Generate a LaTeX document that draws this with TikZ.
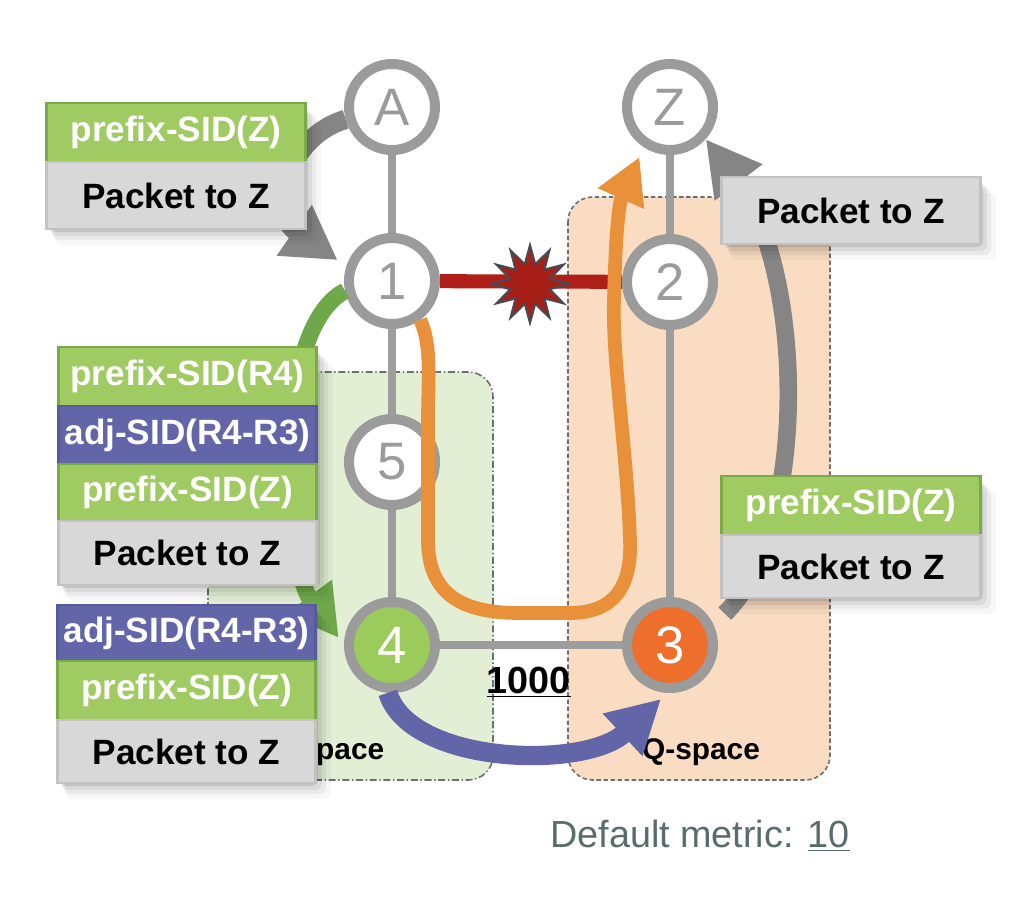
\documentclass[tikz,border=0pt]{standalone}
\usepackage{fontspec}
\setmainfont{Liberation Sans}
\usetikzlibrary{arrows.meta,shapes.geometric,calc}
\pgfdeclarelayer{bg}
\pgfsetlayers{bg,main}
\definecolor{ringgray}{HTML}{9B9B9B}
\definecolor{edgegray}{HTML}{9D9D9D}
\definecolor{arrowgray}{HTML}{858585}
\definecolor{linered}{HTML}{B01F17}
\definecolor{starred}{HTML}{A61E16}
\definecolor{stardraw}{HTML}{4A4A55}
\definecolor{pgreen}{HTML}{E2EFD5}
\definecolor{qpeach}{HTML}{F9DCC2}
\definecolor{regionborder}{HTML}{6E6E6E}
\definecolor{boxgreen}{HTML}{A0CB62}
\definecolor{boxgreenb}{HTML}{78AA48}
\definecolor{boxblue}{HTML}{6266A8}
\definecolor{boxblueb}{HTML}{575B9C}
\definecolor{boxgray}{HTML}{D8D8D8}
\definecolor{boxgrayb}{HTML}{C2C2C2}
\definecolor{nodegreen}{HTML}{9BCB5B}
\definecolor{nodeorange}{HTML}{EE6E2C}
\definecolor{orangearrow}{HTML}{E8913A}
\definecolor{greenarrow}{HTML}{6FA84B}
\definecolor{bluearrow}{HTML}{6266A8}
\definecolor{metrictext}{HTML}{5A6B6B}
\tikzset{
  router/.style={circle, draw=ringgray, line width=5.7pt, fill=white, minimum size=1.72cm,
    inner sep=0pt, text=ringgray, font=\fontsize{30}{30}\selectfont},
  edgeline/.style={draw=edgegray, line width=5pt},
  redline/.style={draw=linered, line width=8pt},
  stackrow/.style={rectangle, minimum width=5.17cm, inner sep=0pt, line width=1.5pt,
    font=\fontsize{20}{24}\selectfont\bfseries},
  greenrow/.style={stackrow, fill=boxgreen, draw=boxgreenb, text=white},
  bluerow/.style={stackrow, fill=boxblue, draw=boxblueb, text=white},
  grayrow/.style={stackrow, fill=boxgray, draw=boxgrayb, text=black},
  region/.style={line width=0.9pt, draw=regionborder, rounded corners=14pt},
  spacelabel/.style={font=\fontsize{17}{17}\selectfont\bfseries},
  flow/.style={line cap=butt}
}
\newcommand\boxshadow[4]{%
  \foreach \s/\o in {3/0.10,7/0.07,11/0.05,16/0.03}{%
    \fill[black,opacity=\o,rounded corners=4pt] (#1+\s*0.5,#2+\s) rectangle (#3+\s,#4+\s);}}
\begin{document}
\begin{tikzpicture}[x=0.02cm,y=-0.02cm]
\useasboundingbox (0,0) rectangle (1022,914);

% regions
\begin{pgfonlayer}{bg}
\draw[region, fill=pgreen, dash pattern=on 4pt off 1.5pt on 0.8pt off 1.5pt] (208,372) rectangle (493,780);
\draw[region, fill=qpeach, dash pattern=on 2.5pt off 1.5pt] (568,197) rectangle (830,780);
\end{pgfonlayer}

% routers
\node[router] (nA) at (392,107) {A};
\node[router] (nZ) at (670,107) {Z};
\node[router] (n1) at (392,281) {1};
\node[router] (n2) at (670,282) {2};
\node[router] (n5) at (392,462) {5};
\node[router, fill=nodegreen, text=white] (n4) at (392,645) {4};
\node[router, fill=nodeorange, text=white] (n3) at (670,645) {3};

% links
\begin{pgfonlayer}{bg}
\draw[edgeline] (nA) -- (n1);
\draw[edgeline] (n1) -- (n5);
\draw[edgeline] (n5) -- (n4);
\draw[edgeline] (nZ) -- (n2);
\draw[edgeline] (n2) -- (n3);
\draw[edgeline] (n4) -- (n3);
\draw[redline] (n1) -- (n2);
\end{pgfonlayer}

\node[star, star points=12, star point ratio=1.9, minimum size=1.55cm, inner sep=0pt,
  fill=starred, draw=stardraw, line width=1.2pt] (boom) at (530,284) {};

% labels
\node[spacelabel] (pspace) at (327,752) {P-space};
\node[spacelabel] (qspace) at (701,752) {Q-space};
\node[font=\fontsize{21.5}{21.5}\selectfont\bfseries] (cost) at (529,682) {\underline{1000}};
\node[font=\fontsize{21.5}{21.5}\selectfont, text=metrictext] (deflt) at (700,836) {Default metric: \underline{10}};

% flows
\draw[flow, draw=arrowgray, line width=11pt, -{Triangle[length=30pt,width=33pt]}, shorten >=6pt]
  (nA.195) .. controls (290,135) and (265,210) .. (n1.162);
\draw[flow, draw=greenarrow, line width=9.5pt, -{Triangle[length=29pt,width=31pt]}, shorten >=5pt]
  (n1.192) .. controls (270,330) and (285,565) .. (n4.180);
\draw[flow, draw=bluearrow, line width=11pt, -{Triangle[length=30pt,width=31pt]}, shorten >=5pt]
  (n4.265) .. controls (410,765) and (585,770) .. (n3.267);
\draw[flow, draw=arrowgray, line width=10pt, -{Triangle[length=31pt,width=32pt]}, shorten <=9pt]
  (n3.25) .. controls (810,530) and (805,270) .. (nZ.-42);
\draw[flow, draw=orangearrow, line width=7.8pt, -{Triangle[length=26pt,width=27pt]}, shorten >=6pt]
  (n1.-54) .. controls (432,345) and (428,380) .. (428,420) -- (428,540)
  .. controls (428,600) and (470,613) .. (520,613) -- (570,613)
  .. controls (615,613) and (632,585) .. (630,540)
  .. controls (627,450) and (612,360) .. (614,300)
  .. controls (615,250) and (618,205) .. (nZ.237);

% packet boxes
\boxshadow{47}{103}{305}{229}
\node[greenrow, minimum height=1.18cm] (b1a) at (176,132.5) {prefix-SID(Z)};
\node[grayrow, minimum height=1.34cm] (b1b) at (176,195.5) {Packet to Z};

\boxshadow{722}{177}{980}{244}
\node[grayrow, minimum height=1.34cm] (b2a) at (851,210.5) {Packet to Z};

\boxshadow{58}{347}{317}{585}
\node[greenrow, minimum height=1.18cm] (b3a) at (187.5,376.5) {prefix-SID(R4)};
\node[bluerow, minimum height=1.16cm] (b3b) at (187.5,435) {adj-SID(R4-R3)};
\node[greenrow, minimum height=1.14cm] (b3c) at (187.5,492.5) {prefix-SID(Z)};
\node[grayrow, minimum height=1.28cm] (b3d) at (187.5,553) {Packet to Z};

\boxshadow{58}{605}{315}{783}
\node[bluerow, minimum height=1.12cm] (b4a) at (186.5,633) {adj-SID(R4-R3)};
\node[greenrow, minimum height=1.18cm] (b4b) at (186.5,690.5) {prefix-SID(Z)};
\node[grayrow, minimum height=1.26cm] (b4c) at (186.5,751.5) {Packet to Z};

\boxshadow{722}{476}{980}{598}
\node[greenrow, minimum height=1.18cm] (b5a) at (851,505.5) {prefix-SID(Z)};
\node[grayrow, minimum height=1.26cm] (b5b) at (851,566.5) {Packet to Z};
\end{tikzpicture}
\end{document}
